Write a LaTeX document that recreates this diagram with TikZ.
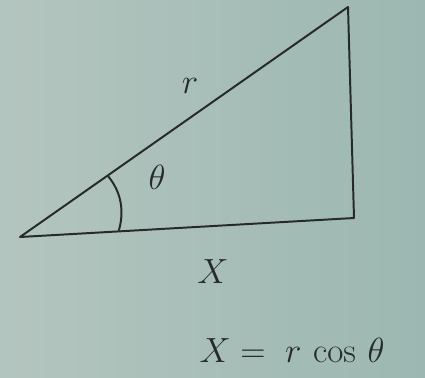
\documentclass[tikz,border=0pt]{standalone}
\usepackage{amsmath,amssymb}
\usepackage{xcolor}
\usepackage{tikz}
\usetikzlibrary{positioning}
\definecolor{colBgL}{RGB}{180,197,191}
\definecolor{colBgR}{RGB}{156,183,177}
\definecolor{colInk}{RGB}{38,42,42}

\begin{document}
\begin{tikzpicture}[x=0.025cm, y=-0.025cm, font=\fontsize{32}{34}\selectfont]

% Fond
\shade[left color=colBgL, right color=colBgR] (0,0) rectangle (425,377);
\useasboundingbox (0,0) rectangle (425,377);

\tikzset{
    ink/.style={colInk, line width=1.4pt, line cap=round, line join=round},
    lbl/.style={colInk, inner sep=0pt}
}

% Sommets du triangle
\coordinate (O) at (20,237);
\coordinate (P) at (354,218);
\coordinate (Q) at (348,7);

% Côtés
\draw[ink] (O) -- (P) -- (Q) -- cycle;

% Arc de l'angle
\coordinate (arcA) at (108,176);
\coordinate (arcB) at (119,230);
\draw[ink] (arcA) .. controls (122,193) and (124,212) .. (arcB);

% Étiquettes
\node[lbl] (r) at (190,86) {$r$};
\node[lbl] (theta) at (157,177) {$\theta$};
\node[lbl] (X) at (213,272) {$X$};
\node[lbl] (eq) at (292,350) {$X =\; r\,\cos\,\theta$};

\end{tikzpicture}
\end{document}
